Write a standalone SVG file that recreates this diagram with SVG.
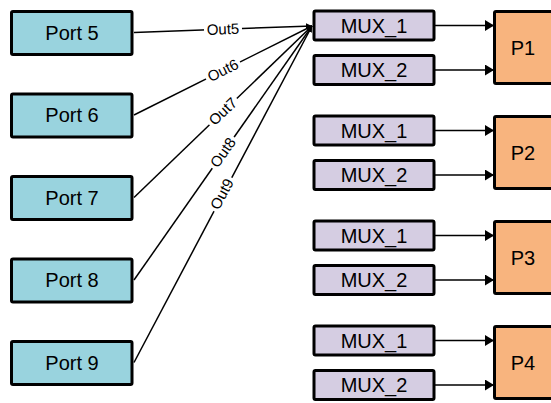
<svg xmlns="http://www.w3.org/2000/svg" width="551" height="403" viewBox="0 0 551 403">
<defs>
<style>
.port{fill:#99d3de;stroke:#000;stroke-width:3}
.mux{fill:#d5cde2;stroke:#000;stroke-width:3}
.p{fill:#f8b47e;stroke:#000;stroke-width:3}
.t{font-family:"Liberation Sans",Arial,sans-serif;font-size:20px;fill:#000;text-anchor:middle}
.lbl{font-family:"Liberation Sans",Arial,sans-serif;font-size:15px;fill:#000;text-anchor:middle}
.ln{stroke:#000;stroke-width:1.5;fill:none}
.bg{fill:#fff}
</style>
<marker id="ah" viewBox="0 0 10 10" refX="10" refY="5" markerWidth="6" markerHeight="6" markerUnits="userSpaceOnUse" orient="auto">
<path d="M0,0 L10,5 L0,10 Z" fill="#000"/>
</marker>
<marker id="ah2" viewBox="0 0 10 10" refX="10" refY="5" markerWidth="9" markerHeight="11" markerUnits="userSpaceOnUse" orient="auto" preserveAspectRatio="none">
<path d="M0,0 L10,5 L0,10 Z" fill="#000"/>
</marker>
</defs>
<g id="connectors">
<line class="ln" x1="134" y1="32.5" x2="312" y2="26" marker-end="url(#ah)"/>
<line class="ln" x1="134" y1="115" x2="312" y2="26" marker-end="url(#ah)"/>
<line class="ln" x1="134" y1="197.5" x2="312" y2="26" marker-end="url(#ah)"/>
<line class="ln" x1="134" y1="280" x2="312" y2="26" marker-end="url(#ah)"/>
<line class="ln" x1="134" y1="362.5" x2="312" y2="26" marker-end="url(#ah)"/>
<g transform="translate(223,29.3) rotate(-2.1)"><rect class="bg" x="-19" y="-7" width="38" height="13"/><text class="lbl" x="0" y="5">Out5</text></g>
<g transform="translate(223,70.5) rotate(-26.3)"><rect class="bg" x="-19" y="-7" width="38" height="13"/><text class="lbl" x="0" y="5">Out6</text></g>
<g transform="translate(223,111.5) rotate(-43.6)"><rect class="bg" x="-19" y="-7" width="38" height="13"/><text class="lbl" x="0" y="5">Out7</text></g>
<g transform="translate(223,152.5) rotate(-54.7)"><rect class="bg" x="-19" y="-7" width="38" height="13"/><text class="lbl" x="0" y="5">Out8</text></g>
<g transform="translate(222,194) rotate(-61.9)"><rect class="bg" x="-19" y="-7" width="38" height="13"/><text class="lbl" x="0" y="5">Out9</text></g>
<line class="ln" x1="435" y1="25.5" x2="494" y2="25.5" marker-end="url(#ah2)"/>
<line class="ln" x1="435" y1="70" x2="494" y2="70" marker-end="url(#ah2)"/>
<line class="ln" x1="435" y1="130.5" x2="494" y2="130.5" marker-end="url(#ah2)"/>
<line class="ln" x1="435" y1="175" x2="494" y2="175" marker-end="url(#ah2)"/>
<line class="ln" x1="435" y1="235.5" x2="494" y2="235.5" marker-end="url(#ah2)"/>
<line class="ln" x1="435" y1="280" x2="494" y2="280" marker-end="url(#ah2)"/>
<line class="ln" x1="435" y1="340.5" x2="494" y2="340.5" marker-end="url(#ah2)"/>
<line class="ln" x1="435" y1="385" x2="494" y2="385" marker-end="url(#ah2)"/>
</g>
<g id="port5"><rect class="port" x="11.5" y="11.5" width="120.5" height="43" rx="1.5"/><text class="t" x="72" y="39.5">Port 5</text></g>
<g id="port6"><rect class="port" x="11.5" y="94" width="120.5" height="43" rx="1.5"/><text class="t" x="72" y="122">Port 6</text></g>
<g id="port7"><rect class="port" x="11.5" y="176.5" width="120.5" height="43" rx="1.5"/><text class="t" x="72" y="204.5">Port 7</text></g>
<g id="port8"><rect class="port" x="11.5" y="259" width="120.5" height="43" rx="1.5"/><text class="t" x="72" y="287">Port 8</text></g>
<g id="port9"><rect class="port" x="11.5" y="341.5" width="120.5" height="43" rx="1.5"/><text class="t" x="72" y="369.5">Port 9</text></g>
<g id="mux1a"><rect class="mux" x="314" y="11" width="120" height="29" rx="1.5"/><text class="t" x="374" y="32.5">MUX_1</text></g>
<g id="mux2a"><rect class="mux" x="314" y="55.5" width="120" height="29" rx="1.5"/><text class="t" x="374" y="77">MUX_2</text></g>
<g id="mux1b"><rect class="mux" x="314" y="116" width="120" height="29" rx="1.5"/><text class="t" x="374" y="137.5">MUX_1</text></g>
<g id="mux2b"><rect class="mux" x="314" y="160.5" width="120" height="29" rx="1.5"/><text class="t" x="374" y="182">MUX_2</text></g>
<g id="mux1c"><rect class="mux" x="314" y="221" width="120" height="29" rx="1.5"/><text class="t" x="374" y="242.5">MUX_1</text></g>
<g id="mux2c"><rect class="mux" x="314" y="265.5" width="120" height="29" rx="1.5"/><text class="t" x="374" y="287">MUX_2</text></g>
<g id="mux1d"><rect class="mux" x="314" y="326" width="120" height="29" rx="1.5"/><text class="t" x="374" y="347.5">MUX_1</text></g>
<g id="mux2d"><rect class="mux" x="314" y="370.5" width="120" height="29" rx="1.5"/><text class="t" x="374" y="392">MUX_2</text></g>
<g id="p1"><rect class="p" x="494.5" y="11.5" width="70" height="72" rx="1.5"/><text class="t" x="523" y="54.5">P1</text></g>
<g id="p2"><rect class="p" x="494.5" y="116.5" width="70" height="72" rx="1.5"/><text class="t" x="523" y="159.5">P2</text></g>
<g id="p3"><rect class="p" x="494.5" y="221.5" width="70" height="72" rx="1.5"/><text class="t" x="523" y="264.5">P3</text></g>
<g id="p4"><rect class="p" x="494.5" y="326.5" width="70" height="72" rx="1.5"/><text class="t" x="523" y="369.5">P4</text></g>
</svg>
